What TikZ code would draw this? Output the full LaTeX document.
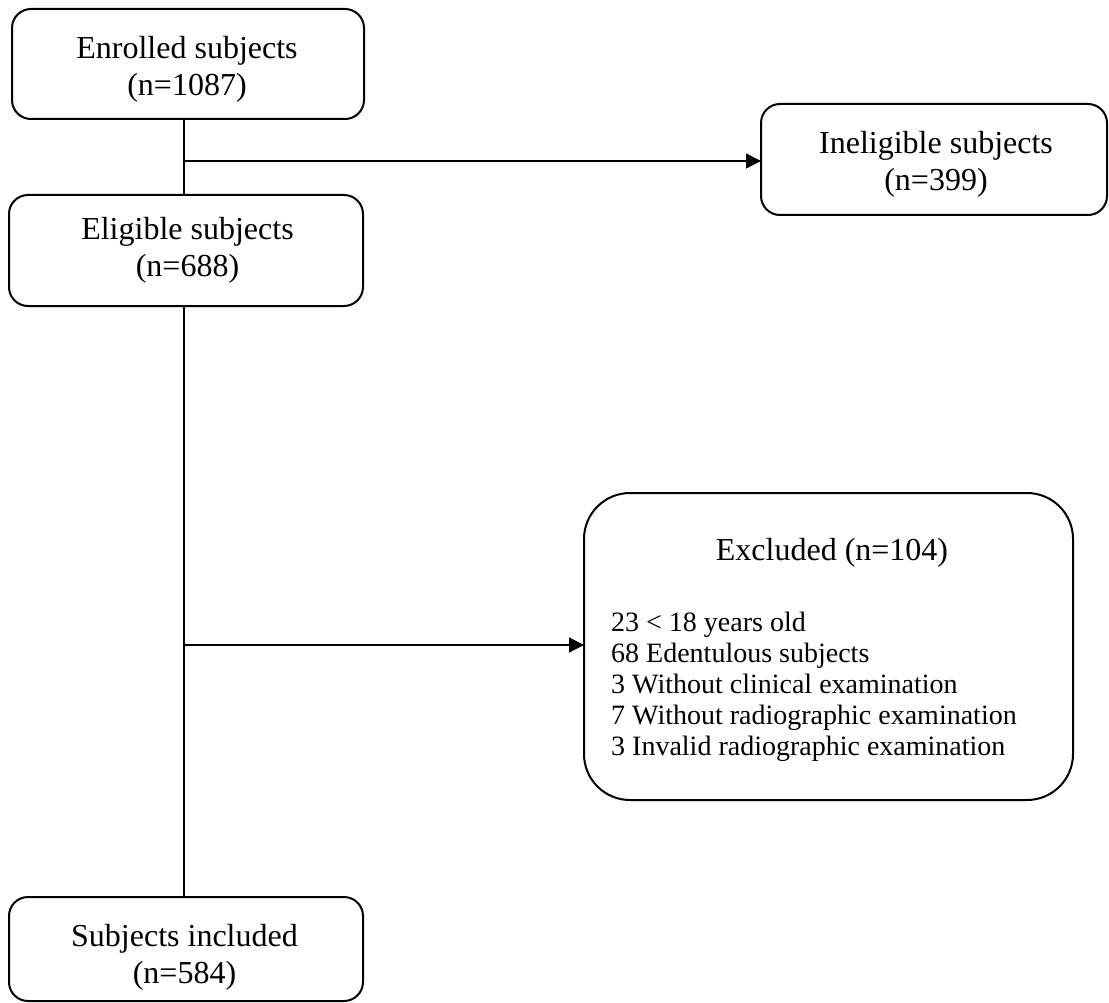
\documentclass[tikz,border=0pt]{standalone}
\usepackage{fontspec}
\setmainfont{Liberation Serif}
\usetikzlibrary{arrows.meta}
\begin{document}
\begin{tikzpicture}[x=1pt,y=-1pt,
  box/.style={draw, line width=2pt, rounded corners=19pt, inner sep=0pt, outer sep=0pt},
  bigbox/.style={draw, line width=2pt, rounded corners=46pt, inner sep=0pt, outer sep=0pt},
  txt/.style={inner sep=0pt, align=center, font=\fontsize{32}{37}\selectfont},
  itemtxt/.style={inner sep=0pt, align=left, font=\fontsize{28}{31}\selectfont},
  conn/.style={draw, line width=1.2pt},
  arr/.style={-{Triangle[length=15pt,width=15pt]}}]
\useasboundingbox (0,0) rectangle (1109,1003);
% boxes
\node[box, minimum width=352pt, minimum height=110pt] (enrolled) at (188,64) {};
\node[box, minimum width=354pt, minimum height=111pt] (eligible) at (186,250.5) {};
\node[box, minimum width=346pt, minimum height=111pt] (inel) at (934,159.5) {};
\node[box, minimum width=354pt, minimum height=104pt] (incl) at (186,949) {};
\node[bigbox, minimum width=489pt, minimum height=307pt] (excl) at (828.5,646.5) {};
% texts
\node[txt, anchor=north] (enrolledtxt) at (187,36) {Enrolled subjects\\(n=1087)};
\node[txt, anchor=north] (eligibletxt) at (187.5,217) {Eligible subjects\\(n=688)};
\node[txt, anchor=north] (ineltxt) at (936,131) {Ineligible subjects\\(n=399)};
\node[txt, anchor=north] (incltxt) at (184.5,924) {Subjects included\\(n=584)};
\node[txt, anchor=base] (excltitle) at (832,560) {Excluded (n=104)};
\node[itemtxt, anchor=north west] (exclitems) at (611,612) {23 < 18 years old\\68 Edentulous subjects\\3 Without clinical examination\\7 Without radiographic examination\\3 Invalid radiographic examination};
% connectors
\coordinate (j1) at (184,161);
\coordinate (j2) at (184,645);
\draw[conn] (enrolled.south -| j1) -- (eligible.north -| j1);
\draw[conn, arr] (j1) -- (inel.west |- j1);
\draw[conn] (eligible.south -| j1) -- (incl.north -| j1);
\draw[conn, arr] (j2) -- (excl.west |- j2);
\end{tikzpicture}
\end{document}
